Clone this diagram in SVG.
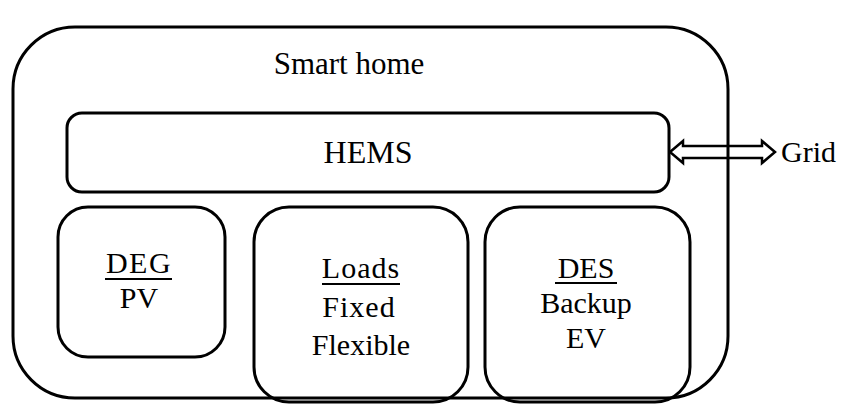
<svg xmlns="http://www.w3.org/2000/svg" width="844" height="409" viewBox="0 0 844 409">
<style>
.box{fill:none;stroke:#000;stroke-width:3}
.t{font-family:"Liberation Serif","Times New Roman",serif;font-size:30px;fill:#000;text-anchor:middle}
.u{stroke:#000;stroke-width:2}
</style>
<rect width="844" height="409" fill="#fff"/>
<g id="connectors">
<path d="M670,152 L683,141 L683,146 L762,146 L762,141 L775,152 L762,163 L762,158 L683,158 L683,163 Z" fill="#fff" stroke="#000" stroke-width="2.5" stroke-linejoin="miter"/>
</g>
<g id="smart-home">
<rect class="box" x="13" y="27" width="715" height="371" rx="62" ry="62"/>
<text class="t" x="349" y="74" style="font-size:31px">Smart home</text>
</g>
<g id="hems">
<rect class="box" x="67" y="113" width="602" height="79" rx="15" ry="15"/>
<text class="t" x="368" y="163" style="font-size:32px">HEMS</text>
</g>
<g id="grid">
<text class="t" x="781" y="162" style="text-anchor:start">Grid</text>
</g>
<g id="deg">
<rect class="box" x="58" y="207" width="167" height="150" rx="30" ry="30"/>
<text class="t" x="139" y="273" style="letter-spacing:1.5px">DEG</text>
<line class="u" x1="105" y1="279" x2="172" y2="279"/>
<text class="t" x="139" y="308">PV</text>
</g>
<g id="loads">
<rect class="box" x="254" y="207" width="214" height="195" rx="35" ry="35"/>
<text class="t" x="361" y="278" style="letter-spacing:1px">Loads</text>
<line class="u" x1="322" y1="284" x2="400" y2="284"/>
<text class="t" x="359" y="317" style="letter-spacing:1px">Fixed</text>
<text class="t" x="361" y="355">Flexible</text>
</g>
<g id="des">
<rect class="box" x="485" y="207" width="205" height="195" rx="35" ry="35"/>
<text class="t" x="586" y="278">DES</text>
<line class="u" x1="555" y1="283" x2="617" y2="283"/>
<text class="t" x="586" y="313">Backup</text>
<text class="t" x="586" y="348">EV</text>
</g>
</svg>
